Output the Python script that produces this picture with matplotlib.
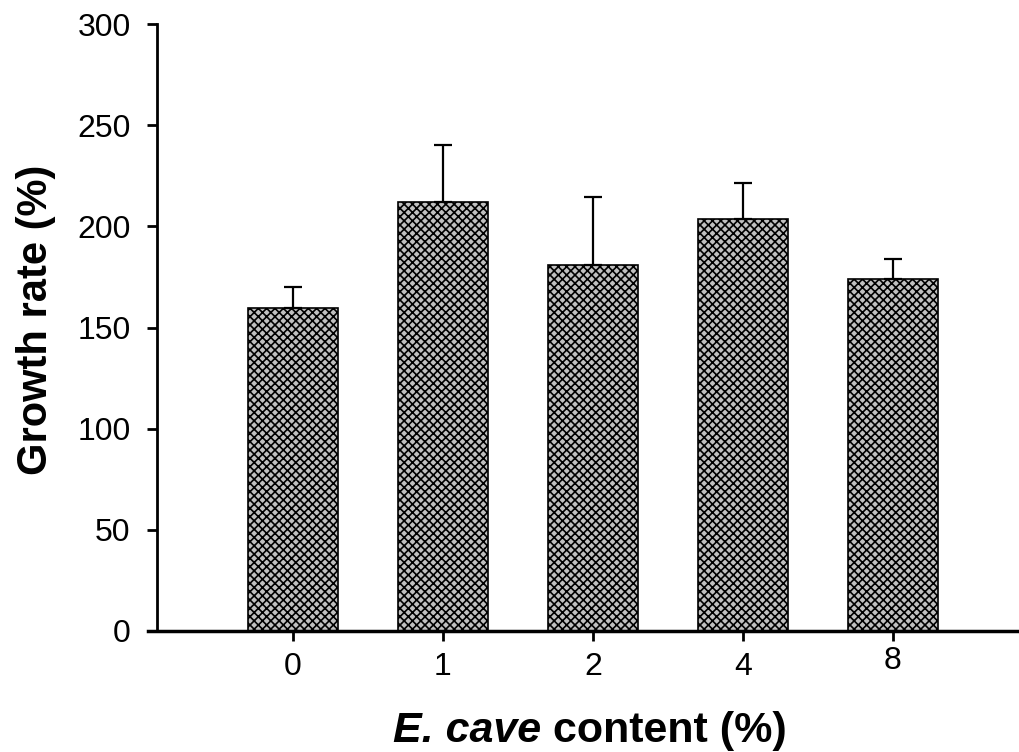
import numpy as np
import matplotlib
matplotlib.use("Agg")
import matplotlib.pyplot as plt

# E. cave content (%) and growth rate (%) with error bars
contents = ["0", "1", "2", "4", "8"]
growth = [159.5, 212.0, 181.0, 203.5, 174.0]
err_up = [10.5, 28.0, 33.5, 18.0, 10.0]

plt.rcParams['font.family'] = ['Liberation Sans', 'DejaVu Sans']
plt.rcParams['hatch.linewidth'] = 1.2
plt.rcParams['hatch.color'] = 'black'

fig = plt.figure(figsize=(10.2, 7.52), dpi=100)
ax = fig.add_axes([148 / 1020, 1 - 631 / 752, 1 - 148 / 1020, (631 - 24) / 752])

x = np.arange(len(contents))
ax.bar(x, growth, width=0.6, color='#c0c0c0', edgecolor='black', linewidth=1.2,
       hatch='xxxx', zorder=2)
ax.errorbar(x, growth, yerr=[np.zeros(len(x)), err_up], fmt='none', ecolor='black',
            elinewidth=1.6, capsize=6.5, capthick=1.6, zorder=3)

ax.set_xlim((148 - 293) / 150, (1020 - 293) / 150)
ax.set_ylim(0, 300)
ax.spines['left'].set_position(('data', (157 - 293) / 150))
ax.spines['top'].set_visible(False)
ax.spines['right'].set_visible(False)
ax.spines['left'].set_linewidth(2)
ax.spines['bottom'].set_linewidth(2.5)

ax.set_xticks(x)
ax.set_xticklabels(contents)
ax.set_yticks(np.arange(0, 301, 50))
ax.tick_params(axis='both', direction='out', length=7, width=2, labelsize=23)
ax.tick_params(axis='y', pad=12)
ax.tick_params(axis='x', pad=8)
# the "8" label sits a bit higher in the original
lab8 = ax.get_xticklabels()[-1]
lab8.set_y(0.01)

fig.text(36 / 1020, 1 - 320 / 752, "Growth rate (%)", rotation=90, ha='center',
         va='center', fontsize=30, fontweight='bold')
fig.text(541 / 1020, 1 - 742 / 752, "E. cave", ha='right', va='baseline',
         fontsize=31, fontweight='bold', fontstyle='italic')
fig.text(553 / 1020, 1 - 742 / 752, "content (%)", ha='left', va='baseline',
         fontsize=31, fontweight='bold')

fig.savefig("out.png", dpi=100)
